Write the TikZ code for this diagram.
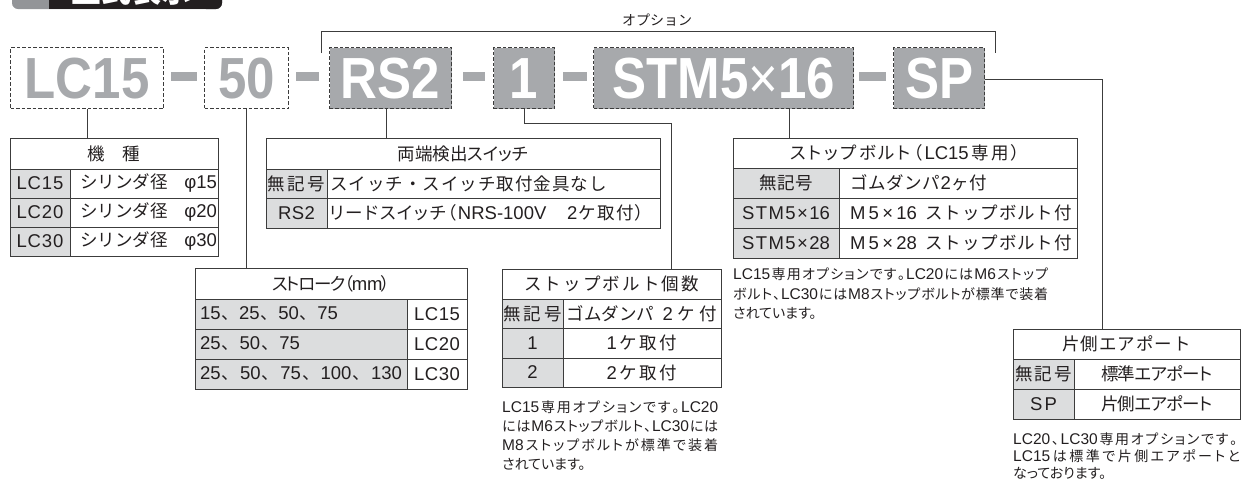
\documentclass[tikz,border=0pt]{standalone}
\usepackage{fontspec}
\usepackage{graphicx}
\usetikzlibrary{calc}
\newfontfamily\jp{Noto Sans CJK JP}
\newfontfamily\jpp{Noto Sans CJK JP}[RawFeature=+palt]
\newfontfamily\la{Liberation Sans}
\definecolor{txt}{HTML}{231F20}
\definecolor{linec}{HTML}{3C3C3C}
\definecolor{cellg}{HTML}{DCDDDE}
\definecolor{codeg}{HTML}{A7A9AC}
\definecolor{hdrg}{HTML}{939598}
\def\spstop{\spstop}
\def\sgap{\hskip 0pt plus 1fil minus 1fil}
\def\spr#1{\ifx\spstop#1\else{#1}\sgap\expandafter\spr\fi}
\newcommand\spread[2]{\hbox to #1{\spr#2\spstop\unskip}}
\newcommand\lbox[3]{\makebox[#1pt][l]{\hspace*{#2pt}#3}}
\newcommand\sx[1]{\scalebox{0.88}[1]{#1}}
\newcommand\tl{\la\fontsize{18.5pt}{21pt}\selectfont}
\newcommand\nla[1]{{\la\fontsize{15.5pt}{19pt}\selectfont #1}}
\tikzset{
  cell/.style={draw=linec, line width=0.9pt, inner sep=0pt, outer sep=0pt, anchor=north west,
    minimum height=29, text=txt, font=\jp\fontsize{17.5pt}{21pt}\selectfont},
  gcell/.style={fill=cellg},
  codebox/.style={draw=linec, line width=1.2pt, dash pattern=on 3.5pt off 2pt, inner sep=0pt,
    minimum height=61, anchor=north west, font=\la\bfseries\fontsize{58pt}{60pt}\selectfont},
  codewhite/.style={codebox, fill=white, text=codeg},
  codegrey/.style={codebox, fill=codeg, text=white},
  conn/.style={draw=linec, line width=1pt},
  notel/.style={anchor=base west, inner sep=0pt, text=txt, font=\jpp\fontsize{14pt}{19pt}\selectfont},
}
\begin{document}
\begin{tikzpicture}[x=1pt, y=-1pt]
\useasboundingbox (0,0) rectangle (1242,480);
% header bar (cut at top)
\begin{scope}
\clip (0,0) rectangle (1242,480);
\fill[hdrg, rounded corners=6] (12,-30) rectangle (222,9);
\fill[txt] (49,-30) rectangle (212,9);
\fill[txt, rounded corners=6] (200,-30) rectangle (222,9);
\node[anchor=base, text=white, inner sep=0pt, font=\jp\bfseries\fontsize{30pt}{30pt}\selectfont] (hdr) at (131,2) {型式表示};
\end{scope}

% code row
\node[codewhite, minimum width=153] (lc) at (10,47) {\sx{LC15}};
\node[codewhite, minimum width=84] (fifty) at (204,47) {\sx{50}};
\node[codegrey, minimum width=122] (rs) at (329,47) {\sx{RS2}};
\node[codegrey, minimum width=61] (one) at (493,47) {\sx{1}};
\node[codegrey, minimum width=260] (stm) at (593,47) {\sx{STM5{\mdseries ×}16}};
\node[codegrey, minimum width=91] (sp) at (893,47) {\sx{SP}};
\fill[codeg] (171,72) rectangle (197,81);
\fill[codeg] (296,72) rectangle (319,81);
\fill[codeg] (463,72) rectangle (485,81);
\fill[codeg] (563,72) rectangle (587,81);
\fill[codeg] (859,72) rectangle (886,81);

% option bracket
\draw[conn] (321,53) -- (321,31) -| (995,53);
\node[text=txt, inner sep=0pt, font=\jp\fontsize{14pt}{14pt}\selectfont] (opt) at (657,20) {オプション};

% T1 機種
\node[cell, minimum width=208, minimum height=31] (t1) at (10,138) {\spread{53pt}{機種}};
\node[cell, gcell, minimum width=60] (t1a) at (10,169) {\tl\spread{47pt}{LC15}};
\node[cell, minimum width=148] (t1b) at (70,169) {\lbox{148}{10}{\hbox to 137pt{シリンダ径\hfil{\tl φ15}}}};
\node[cell, gcell, minimum width=60] (t1c) at (10,198) {\tl\spread{47pt}{LC20}};
\node[cell, minimum width=148] (t1d) at (70,198) {\lbox{148}{10}{\hbox to 137pt{シリンダ径\hfil{\tl φ20}}}};
\node[cell, gcell, minimum width=60] (t1e) at (10,227) {\tl\spread{47pt}{LC30}};
\node[cell, minimum width=148] (t1f) at (70,227) {\lbox{148}{10}{\hbox to 137pt{シリンダ径\hfil{\tl φ30}}}};

% T2 両端検出スイッチ
\node[cell, minimum width=394, minimum height=31] (t2) at (266,138) {\jpp\spread{131pt}{両端検出スイッチ}};
\node[cell, gcell, minimum width=61] (t2a) at (266,169) {\spread{58pt}{無記号}};
\node[cell, minimum width=333] (t2b) at (327,169) {\lbox{333}{3}{\spread{277pt}{スイッチ・スイッチ取付金具なし}}};
\node[cell, gcell, minimum width=61, minimum height=30] (t2c) at (266,198) {\tl\spread{37pt}{RS2}};
\node[cell, minimum width=333, minimum height=30] (t2d) at (327,198) {\jpp\lbox{333}{3}{\spread{314pt}{リードスイッチ（{\tl NRS-100V}　{\tl 2}ケ取付）}}};

% T3 ストローク
\node[cell, minimum width=272, minimum height=31] (t3) at (195,268) {\jpp\spread{118pt}{ストローク（{\tl mm}）}};
\node[cell, gcell, minimum width=212, minimum height=30] (t3a) at (195,299) {\lbox{212}{5}{\spread{138pt}{{\tl 15}、{\tl 25}、{\tl 50}、{\tl 75}}}};
\node[cell, minimum width=60, minimum height=30] (t3b) at (407,299) {\tl\spread{46pt}{LC15}};
\node[cell, gcell, minimum width=212, minimum height=30] (t3c) at (195,329) {\lbox{212}{5}{\spread{100pt}{{\tl 25}、{\tl 50}、{\tl 75}}}};
\node[cell, minimum width=60, minimum height=30] (t3d) at (407,329) {\tl\spread{46pt}{LC20}};
\node[cell, gcell, minimum width=212, minimum height=30] (t3e) at (195,359) {\lbox{212}{5}{\spread{202pt}{{\tl 25}、{\tl 50}、{\tl 75}、{\tl 100}、{\tl 130}}}};
\node[cell, minimum width=60, minimum height=30] (t3f) at (407,359) {\tl\spread{46pt}{LC30}};

% T4 ストップボルト個数
\node[cell, minimum width=219, minimum height=30] (t4) at (502,269) {\spread{175pt}{ストップボルト個数}};
\node[cell, gcell, minimum width=61] (t4a) at (502,299) {\spread{58pt}{無記号}};
\node[cell, minimum width=158] (t4b) at (563,299) {\hbox to 151pt{\spread{88pt}{ゴムダンパ}\hfil\spread{55pt}{{\tl 2}ケ付}}};
\node[cell, gcell, minimum width=61, minimum height=30] (t4c) at (502,328) {\tl 1};
\node[cell, minimum width=158, minimum height=30] (t4d) at (563,328) {\spread{71pt}{{\tl 1}ケ取付}};
\node[cell, gcell, minimum width=61] (t4e) at (502,358) {\tl 2};
\node[cell, minimum width=158] (t4f) at (563,358) {\spread{71pt}{{\tl 2}ケ取付}};

% T5 ストップボルト(LC15専用)
\node[cell, minimum width=344, minimum height=30] (t5) at (733,138) {\jpp\spread{230pt}{ストップボルト（{\tl LC15}専用）}};
\node[cell, gcell, minimum width=106, minimum height=30] (t5a) at (733,168) {\spread{54pt}{無記号}};
\node[cell, minimum width=238, minimum height=30] (t5b) at (839,168) {\lbox{238}{11}{\spread{137pt}{ゴムダンパ{\tl 2}ヶ付}}};
\node[cell, gcell, minimum width=106, minimum height=30] (t5c) at (733,198) {\tl\spread{88pt}{STM5×{16}}};
\node[cell, minimum width=238, minimum height=30] (t5d) at (839,198) {\lbox{238}{11}{\hbox to 222pt{{\tl\spread{67pt}{M5×{16}}}\hfil\spread{147pt}{ストップボルト付}}}};
\node[cell, gcell, minimum width=106, minimum height=30] (t5e) at (733,228) {\tl\spread{88pt}{STM5×{28}}};
\node[cell, minimum width=238, minimum height=30] (t5f) at (839,228) {\lbox{238}{11}{\hbox to 222pt{{\tl\spread{67pt}{M5×{28}}}\hfil\spread{147pt}{ストップボルト付}}}};

% T6 片側エアポート
\node[cell, minimum width=227, minimum height=30] (t6) at (1013,329) {\spread{128pt}{片側エアポート}};
\node[cell, gcell, minimum width=61, minimum height=30] (t6a) at (1013,359) {\spread{57pt}{無記号}};
\node[cell, minimum width=166, minimum height=30] (t6b) at (1074,359) {\jpp\spread{112pt}{標準エアポート}};
\node[cell, gcell, minimum width=61, minimum height=30] (t6c) at (1013,389) {\tl\spread{27pt}{SP}};
\node[cell, minimum width=166, minimum height=30] (t6d) at (1074,389) {\jpp\spread{112pt}{片側エアポート}};

% connectors
\draw[conn] (lc.south) -- (lc.south |- t1.north);
\draw[conn] (fifty.south) -- (fifty.south |- t3.north);
\draw[conn] ([xshift=-4pt]rs.south) -- ([xshift=-4pt]rs.south |- t2.north);
\draw[conn] (one.south) -- ++(0,14) -| ([xshift=60pt]t4.north);
\draw[conn] ([xshift=66pt]stm.south) -- ([xshift=66pt]stm.south |- t5.north);
\draw[conn] ([yshift=-1.5pt]sp.east) -| ([xshift=-24pt]t6.north);

% notes
\node[notel] (n4a) at (502,412) {\spread{216pt}{{\nla{LC15}}専用オプションです。{\nla{LC20}}}};
\node[notel] (n4b) at (502,431) {\spread{216pt}{には{\nla{M6}}ストップボルト、{\nla{LC30}}には}};
\node[notel] (n4c) at (502,450) {\spread{216pt}{{\nla{M8}}ストップボルトが標準で装着}};
\node[notel] (n4d) at (502,469) {されています。};

\node[notel] (n5a) at (733,279) {\spread{315pt}{{\nla{LC15}}専用オプションです。{\nla{LC20}}には{\nla{M6}}ストップ}};
\node[notel] (n5b) at (733,299) {\spread{315pt}{ボルト、{\nla{LC30}}には{\nla{M8}}ストップボルトが標準で装着}};
\node[notel] (n5c) at (733,318) {されています。};

\node[notel] (n6a) at (1013,444) {\spread{224pt}{{\nla{LC20}}、{\nla{LC30}}専用オプションです。}};
\node[notel] (n6b) at (1013,461) {\spread{227pt}{{\nla{LC15}}は標準で片側エアポートと}};
\node[notel] (n6c) at (1013,478) {なっております。};
\end{tikzpicture}
\end{document}
